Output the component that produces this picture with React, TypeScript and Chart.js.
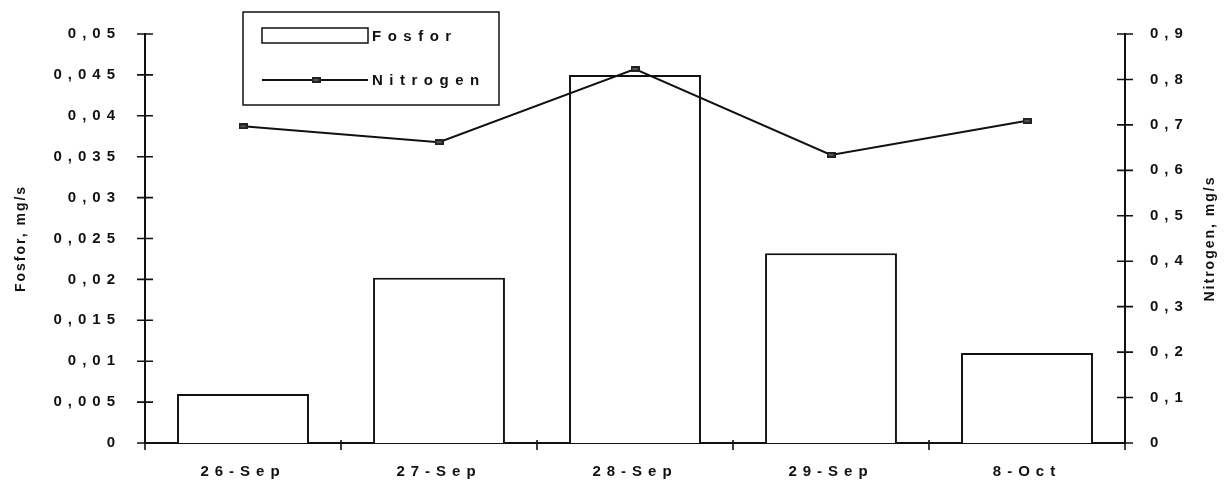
import React, { useEffect, useRef } from "react";
import { Chart, registerables } from "chart.js";

Chart.register(...registerables);

const categories = ["26-Sep", "27-Sep", "28-Sep", "29-Sep", "8-Oct"];
const fosforValues = [0.006, 0.0202, 0.045, 0.0232, 0.011];
const nitrogenValues = [0.697, 0.662, 0.823, 0.634, 0.709];
const leftTickLabels = ["0", "0,005", "0,01", "0,015", "0,02", "0,025", "0,03", "0,035", "0,04", "0,045", "0,05"];
const rightTickLabels = ["0", "0,1", "0,2", "0,3", "0,4", "0,5", "0,6", "0,7", "0,8", "0,9"];
const seriesNames = ["Fosfor", "Nitrogen"];
const leftTitle = "Fosfor, mg/s";
const rightTitle = "Nitrogen, mg/s";

const INK = "#111";
const FAMILY = "'Liberation Sans', Arial, sans-serif";
const FONT = "bold 15px " + FAMILY;
const SPACING = "6px";

function makeMarker() {
  const c = document.createElement("canvas");
  c.width = 9;
  c.height = 6;
  const g = c.getContext("2d")!;
  g.fillStyle = "#222";
  g.fillRect(0, 0, 9, 6);
  g.fillStyle = "#555";
  g.fillRect(2, 2, 5, 2);
  return c;
}

const spacingPlugin = {
  id: "spacing",
  beforeUpdate(chart: any) {
    chart.ctx.letterSpacing = SPACING;
  },
  beforeLayout(chart: any) {
    chart.ctx.letterSpacing = SPACING;
  },
  beforeDraw(chart: any) {
    chart.ctx.letterSpacing = SPACING;
  },
};

const decorPlugin = {
  id: "decor",
  afterDraw(chart: any) {
    const ctx = chart.ctx as CanvasRenderingContext2D;
    const { left, right, top, bottom } = chart.chartArea;
    const yL = chart.scales.yLeft;
    const yR = chart.scales.yRight;
    const x = chart.scales.x;
    ctx.save();
    ctx.strokeStyle = INK;
    ctx.lineWidth = 1.6;
    ctx.beginPath();
    yL.ticks.forEach((_t: any, i: number) => {
      const p = yL.getPixelForTick(i);
      ctx.moveTo(left - 8, p);
      ctx.lineTo(left + 8, p);
    });
    yR.ticks.forEach((_t: any, i: number) => {
      const p = yR.getPixelForTick(i);
      ctx.moveTo(right - 8, p);
      ctx.lineTo(right + 8, p);
    });
    const step = x.getPixelForValue(1) - x.getPixelForValue(0);
    for (let i = 0; i <= categories.length; i++) {
      const p = x.getPixelForValue(0) - step / 2 + i * step;
      ctx.moveTo(p, bottom - 3);
      ctx.lineTo(p, bottom + 7);
    }
    ctx.stroke();

    // axis titles
    ctx.fillStyle = INK;
    ctx.font = "bold 14px " + FAMILY;
    ctx.letterSpacing = "2px";
    ctx.textAlign = "center";
    ctx.textBaseline = "middle";
    const midY = (top + bottom) / 2;
    ctx.save();
    ctx.translate(21, midY);
    ctx.rotate(-Math.PI / 2);
    ctx.fillText(leftTitle, 0, 0);
    ctx.restore();
    ctx.save();
    ctx.translate(1210, midY);
    ctx.rotate(-Math.PI / 2);
    ctx.fillText(rightTitle, 0, 0);
    ctx.restore();

    // legend
    ctx.lineWidth = 1.5;
    ctx.strokeStyle = INK;
    ctx.strokeRect(243, 12, 256, 93);
    ctx.fillStyle = "#fff";
    ctx.fillRect(262, 28, 106, 15);
    ctx.strokeRect(262, 28, 106, 15);
    ctx.lineWidth = 2;
    ctx.beginPath();
    ctx.moveTo(262, 80);
    ctx.lineTo(368, 80);
    ctx.stroke();
    const mk = chart.data.datasets[1].pointStyle;
    if (mk instanceof HTMLCanvasElement) ctx.drawImage(mk, 316 - 4.5, 80 - 3);
    ctx.fillStyle = INK;
    ctx.font = FONT;
    ctx.letterSpacing = "6.5px";
    ctx.textAlign = "left";
    ctx.textBaseline = "middle";
    ctx.fillText(chart.data.datasets[0].label, 372, 37);
    ctx.fillText(chart.data.datasets[1].label, 372, 81);
    ctx.restore();
  },
};

export default function App() {
  const ref = useRef<HTMLCanvasElement | null>(null);
  useEffect(() => {
    if (!ref.current) return;
    const marker = makeMarker();
    const tickFont = { family: FAMILY, size: 15, weight: "bold" };
    const chart: any = new Chart(ref.current, {
      type: "bar",
      data: {
        labels: categories,
        datasets: [
          {
            type: "bar",
            label: seriesNames[0],
            data: fosforValues,
            yAxisID: "yLeft",
            backgroundColor: "#fff",
            borderColor: INK,
            borderWidth: 2,
            barPercentage: 0.673,
            categoryPercentage: 1,
            order: 1,
          },
          {
            type: "line",
            label: seriesNames[1],
            data: nitrogenValues,
            yAxisID: "yRight",
            borderColor: INK,
            borderWidth: 2,
            tension: 0,
            pointStyle: marker,
            pointRadius: 5,
            order: 0,
          } as any,
        ],
      },
      options: {
        animation: false,
        responsive: false,
        devicePixelRatio: 1,
        layout: { padding: { top: 30, left: 0, right: 0, bottom: 0 } },
        plugins: { legend: { display: false }, tooltip: { enabled: false } },
        scales: {
          x: {
            offset: true,
            grid: { display: false, drawTicks: false, offset: true },
            border: { display: true, color: INK, width: 2 },
            ticks: { color: INK, font: tickFont, padding: 20, maxRotation: 0 },
            afterFit: (s: any) => { s.height = 47; },
          },
          yLeft: {
            position: "left",
            min: 0,
            max: 0.05,
            ticks: {
              stepSize: 0.005,
              color: INK,
              padding: 24,
              font: tickFont,
              callback: (_v: any, i: number) => leftTickLabels[i],
            },
            grid: { display: false, drawTicks: false },
            border: { display: true, color: INK, width: 2 },
            afterFit: (s: any) => { s.width = 145; },
          },
          yRight: {
            position: "right",
            min: 0,
            max: 0.9,
            ticks: {
              stepSize: 0.1,
              color: INK,
              padding: 25,
              font: tickFont,
              callback: (_v: any, i: number) => rightTickLabels[i],
            },
            grid: { display: false, drawTicks: false },
            border: { display: true, color: INK, width: 2 },
            afterFit: (s: any) => { s.width = 106; },
          },
        },
      },
      plugins: [spacingPlugin, decorPlugin],
    } as any);
    return () => chart.destroy();
  }, []);
  return (
    <div style={{ position: "fixed", left: 0, top: 0, width: 1231, height: 490, background: "#fff" }}>
      <canvas ref={ref} width={1231} height={490} style={{ width: 1231, height: 490, display: "block" }} />
    </div>
  );
}
